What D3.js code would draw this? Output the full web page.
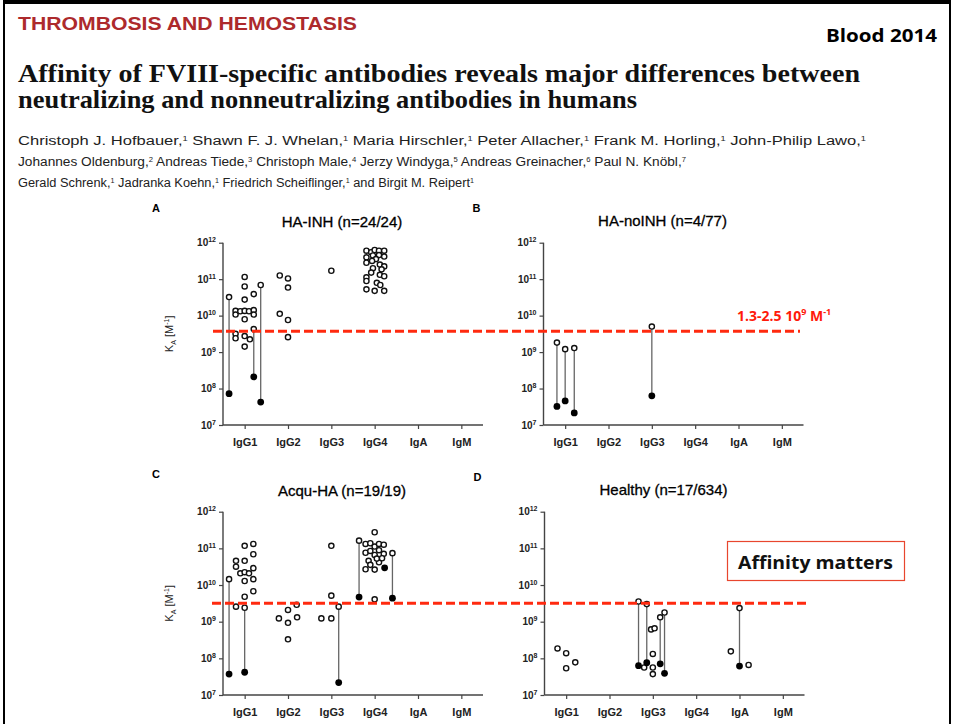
<!DOCTYPE html>
<html>
<head>
<meta charset="utf-8">
<script src="https://cdn.jsdelivr.net/npm/d3@7"></script>
<style>
  body { margin: 0; background: #fff; }
  svg { display: block; }
</style>
</head>
<body>
<div id="chart"></div>
<script>
// ---- data (log10 KA, jitter in category steps) ----
var categories = ["IgG1", "IgG2", "IgG3", "IgG4", "IgA", "IgM"];
var yTicks = [7, 8, 9, 10, 11, 12];

// panel A  HA-INH
var haInhOpen = [
  ["IgG1", 0, 11.06], ["IgG1", 0, 10.80], ["IgG1", 0, 10.44], ["IgG1", 0.21, 10.59],
  ["IgG1", -0.21, 10.13], ["IgG1", -0.21, 10.03], ["IgG1", -0.10, 10.12], ["IgG1", 0, 10.13],
  ["IgG1", 0.10, 10.12], ["IgG1", 0.21, 10.15], ["IgG1", 0.21, 10.03], ["IgG1", 0, 9.90],
  ["IgG1", -0.21, 9.50], ["IgG1", -0.21, 9.38], ["IgG1", 0, 9.44], ["IgG1", 0.12, 9.35], ["IgG1", 0, 9.15],
  ["IgG2", -0.19, 11.10], ["IgG2", 0, 11.02], ["IgG2", 0, 10.77], ["IgG2", -0.19, 10.05],
  ["IgG2", 0, 9.88], ["IgG2", 0, 9.41],
  ["IgG3", 0, 11.23],
  ["IgG4", -0.19, 11.78], ["IgG4", -0.08, 11.74], ["IgG4", 0, 11.80], ["IgG4", 0.1, 11.78], ["IgG4", 0.22, 11.78],
  ["IgG4", -0.19, 11.60], ["IgG4", -0.04, 11.65], ["IgG4", 0.1, 11.66], ["IgG4", 0.22, 11.62], ["IgG4", 0.03, 11.55],
  ["IgG4", -0.19, 11.45], ["IgG4", -0.06, 11.50], ["IgG4", 0.12, 11.40], ["IgG4", 0.22, 11.35],
  ["IgG4", -0.04, 11.30], ["IgG4", 0.16, 11.27],
  ["IgG4", -0.19, 11.05], ["IgG4", -0.08, 11.18], ["IgG4", 0.12, 11.12], ["IgG4", 0.22, 11.08],
  ["IgG4", -0.19, 10.95], ["IgG4", 0.05, 10.90], ["IgG4", 0.13, 10.84],
  ["IgG4", -0.19, 10.72], ["IgG4", 0, 10.68], ["IgG4", 0.22, 10.68]
];
var haInhFilled = [];
var haInhPairs = [["IgG1", -0.36, 10.51, 7.86], ["IgG1", 0.37, 10.84, 7.63], ["IgG1", 0.21, 9.63, 8.32]];

// panel B  HA-noINH
var haNoInhOpen = [];
var haNoInhFilled = [];
var haNoInhPairs = [["IgG1", -0.19, 9.26, 7.51], ["IgG1", 0, 9.08, 7.66], ["IgG1", 0.21, 9.11, 7.33],
  ["IgG3", 0, 9.70, 7.80]];

// panel C  Acqu-HA
var acquOpen = [
  ["IgG1", -0.20, 9.41], ["IgG1", 0, 9.68], ["IgG1", 0.20, 9.83], ["IgG1", 0, 10.11], ["IgG1", 0.20, 10.16],
  ["IgG1", -0.10, 10.32], ["IgG1", 0, 10.35], ["IgG1", 0.10, 10.32], ["IgG1", 0.20, 10.46],
  ["IgG1", -0.20, 10.50], ["IgG1", -0.20, 10.66], ["IgG1", 0, 10.66], ["IgG1", 0.20, 10.84],
  ["IgG1", 0, 11.07], ["IgG1", 0.20, 11.12],
  ["IgG2", -0.21, 9.09], ["IgG2", 0, 9.32], ["IgG2", 0.20, 9.46], ["IgG2", 0, 8.97],
  ["IgG2", 0.21, 9.12], ["IgG2", 0, 8.52],
  ["IgG3", -0.23, 9.09], ["IgG3", 0, 9.09], ["IgG3", 0, 11.07], ["IgG3", 0, 9.71],
  ["IgG4", 0, 11.44], ["IgG4", -0.21, 11.12], ["IgG4", -0.10, 11.14], ["IgG4", 0, 11.05],
  ["IgG4", 0.10, 11.12], ["IgG4", 0.21, 11.10], ["IgG4", -0.21, 10.88], ["IgG4", -0.10, 10.93],
  ["IgG4", 0, 10.82], ["IgG4", 0.21, 10.85], ["IgG4", 0.10, 10.95], ["IgG4", -0.14, 10.66],
  ["IgG4", 0.10, 10.62], ["IgG4", -0.10, 10.55], ["IgG4", -0.21, 10.43], ["IgG4", 0, 10.42],
  ["IgG4", 0.05, 10.72], ["IgG4", 0.17, 10.73], ["IgG4", 0, 9.61]
];
var acquFilled = [["IgG4", 0.23, 10.47]];
var acquPairs = [["IgG1", -0.36, 10.16, 7.57], ["IgG1", 0, 9.38, 7.62], ["IgG3", 0.17, 9.41, 7.34],
  ["IgG4", -0.36, 11.21, 9.67], ["IgG4", 0.41, 10.87, 9.64]];

// panel D  Healthy
var healthyOpen = [
  ["IgG1", -0.20, 8.27], ["IgG1", 0, 8.14], ["IgG1", 0.21, 7.89], ["IgG1", 0, 7.73],
  ["IgG3", -0.04, 8.79], ["IgG3", 0.04, 8.82], ["IgG3", 0, 8.12], ["IgG3", -0.20, 7.75],
  ["IgG3", 0, 7.75], ["IgG3", 0, 7.57],
  ["IgA", -0.20, 8.19], ["IgA", 0.21, 7.82]
];
var healthyFilled = [];
var healthyPairs = [["IgG3", -0.33, 9.55, 7.80], ["IgG3", -0.14, 9.48, 7.88], ["IgG3", 0.17, 9.12, 7.85],
  ["IgG3", 0.27, 9.25, 7.59], ["IgA", 0, 9.37, 7.79]];

var thresholdTop = 9.57, thresholdBottom = 9.50;

// ---- drawing ----
var W = 954, H = 724;
var svg = d3.select("#chart").append("svg").attr("width", W).attr("height", H);
var sans = "'Liberation Sans', Arial, sans-serif";

var defs = svg.append("defs");
defs.append("filter").attr("id", "blur").append("feGaussianBlur").attr("stdDeviation", 1.2);

// frame
svg.append("rect").attr("x", 4).attr("y", 2).attr("width", 946).attr("height", 730)
  .attr("fill", "none").attr("stroke", "#000").attr("stroke-width", 2);
svg.append("line").attr("x1", 3).attr("x2", 951).attr("y1", 2).attr("y2", 2)
  .attr("stroke", "#000").attr("stroke-width", 4);

// header
svg.append("text").attr("x", 18).attr("y", 30).attr("font-family", sans).attr("font-weight", "bold")
  .attr("font-size", 18).attr("fill", "#ad2a2c").attr("textLength", 339).attr("lengthAdjust", "spacingAndGlyphs")
  .text("THROMBOSIS AND HEMOSTASIS");
svg.append("text").attr("x", 826).attr("y", 42).attr("font-family", "'Open Sans', sans-serif").attr("font-weight", "bold")
  .attr("font-size", 18).attr("fill", "#000").attr("textLength", 111).attr("lengthAdjust", "spacingAndGlyphs")
  .text("Blood 2014");

var titleLines = [
  ["Affinity of FVIII-specific antibodies reveals major differences between", 82, 842],
  ["neutralizing and nonneutralizing antibodies in humans", 108, 619]
];
titleLines.forEach(function(t){
  svg.append("text").attr("x", 18).attr("y", t[1]).attr("font-family", "'Liberation Serif', 'Times New Roman', serif")
    .attr("font-weight", "bold").attr("font-size", 25).attr("fill", "#111")
    .attr("textLength", t[2]).attr("lengthAdjust", "spacingAndGlyphs").text(t[0]);
});

var authorLines = [
  [[["Christoph J. Hofbauer,", "1"], [" Shawn F. J. Whelan,", "1"], [" Maria Hirschler,", "1"], [" Peter Allacher,", "1"],
    [" Frank M. Horling,", "1"], [" John-Philip Lawo,", "1"]], 145, 848],
  [[["Johannes Oldenburg,", "2"], [" Andreas Tiede,", "3"], [" Christoph Male,", "4"], [" Jerzy Windyga,", "5"],
    [" Andreas Greinacher,", "6"], [" Paul N. Knöbl,", "7"]], 166, 668],
  [[["Gerald Schrenk,", "1"], [" Jadranka Koehn,", "1"], [" Friedrich Scheiflinger,", "1"], [" and Birgit M. Reipert", "1"]], 187, 456]
];
authorLines.forEach(function(l){
  var t = svg.append("text").attr("x", 18).attr("y", l[1]).attr("font-family", sans)
    .attr("font-size", 12.5).attr("fill", "#222")
    .attr("textLength", l[2]).attr("lengthAdjust", "spacingAndGlyphs");
  l[0].forEach(function(p, i){
    t.append("tspan").attr("dy", i ? 4 : 0).text(p[0]);
    t.append("tspan").attr("font-size", 7).attr("dy", -4).text(p[1]);
  });
});

// panels
var panels = [
  {letter: "A", title: "HA-INH (n=24/24)", x0: 223, top: 242.7, bottom: 425, ylabel: true,
    open: haInhOpen, filled: haInhFilled, pairs: haInhPairs, thr: thresholdTop, titleY: 227, letterY: 212},
  {letter: "B", title: "HA-noINH (n=4/77)", x0: 543.5, top: 242.7, bottom: 425, ylabel: false,
    open: haNoInhOpen, filled: haNoInhFilled, pairs: haNoInhPairs, thr: thresholdTop, titleY: 226, letterY: 212},
  {letter: "C", title: "Acqu-HA (n=19/19)", x0: 223, top: 511.7, bottom: 695, ylabel: true,
    open: acquOpen, filled: acquFilled, pairs: acquPairs, thr: thresholdBottom, titleY: 496, letterY: 478},
  {letter: "D", title: "Healthy (n=17/634)", x0: 544.5, top: 511.7, bottom: 695, ylabel: false,
    open: healthyOpen, filled: healthyFilled, pairs: healthyPairs, thr: thresholdBottom, titleY: 495, letterY: 481}
];

function kA(v){ return Math.pow(10, v); }

panels.forEach(function(p){
  var g = svg.append("g");
  var x = d3.scalePoint().domain(categories).range([p.x0, p.x0 + 260]).padding(0.5);
  var y = d3.scaleLog().domain([1e7, 1e12]).range([p.bottom, p.top]);
  p.x = x; p.y = y;
  var px = function(d){ return x(d[0]) + d[1] * x.step(); };

  g.append("text").attr("x", p.x0 - 71).attr("y", p.letterY).attr("font-family", sans)
    .attr("font-weight", "bold").attr("font-size", 11).text(p.letter);
  g.append("text").attr("x", p.x0 + 119).attr("y", p.titleY).attr("text-anchor", "middle")
    .attr("font-family", sans).attr("font-size", 15).attr("fill", "#000")
    .attr("stroke", "#000").attr("stroke-width", 0.3).text(p.title);

  // axes
  var yAxis = d3.axisLeft(y).tickValues(yTicks.map(kA)).tickSize(4).tickFormat("");
  var gy = g.append("g").attr("transform", "translate(" + p.x0 + ",0)").call(yAxis);
  var xAxis = d3.axisBottom(x).tickSize(4).tickSizeOuter(0).tickPadding(9);
  var gx = g.append("g").attr("transform", "translate(0," + p.bottom + ")").call(xAxis);
  [gy, gx].forEach(function(a){
    a.select(".domain").attr("stroke", "#444").attr("stroke-width", 1.4);
    a.selectAll(".tick line").attr("stroke", "#444").attr("stroke-width", 1.2);
  });
  gy.select(".domain").attr("d", "M0," + p.top + "V" + p.bottom);
  gx.select(".domain").attr("d", "M" + p.x0 + ",0H" + (p.x0 + 260));
  gx.selectAll(".tick text").attr("font-family", sans).attr("font-weight", "bold")
    .attr("font-size", 11).attr("fill", "#222");

  // y tick labels 10^n
  gy.selectAll(".tick").each(function(d){
    var t = d3.select(this).append("text").attr("x", -7).attr("dy", "0.32em").attr("text-anchor", "end")
      .attr("font-family", sans).attr("font-weight", "bold").attr("font-size", 10).attr("fill", "#222");
    t.append("tspan").text("10");
    t.append("tspan").attr("font-size", 7).attr("dy", -4).text(Math.round(Math.log10(d)));
  });

  if (p.ylabel) {
    var yl = g.append("text").attr("transform", "translate(" + (p.x0 - 50) + "," + ((p.top + p.bottom) / 2) + ") rotate(-90)")
      .attr("text-anchor", "middle").attr("font-family", sans).attr("font-size", 11).attr("fill", "#222");
    yl.append("tspan").text("K");
    yl.append("tspan").attr("font-size", 7).attr("dy", 3).text("A");
    yl.append("tspan").attr("dy", -3).text(" [M");
    yl.append("tspan").attr("font-size", 7).attr("dy", -4).text("-1");
    yl.append("tspan").attr("dy", 4).text("]");
  }

  // links
  g.selectAll(".link").data(p.pairs).enter().append("line")
    .attr("x1", px).attr("x2", px)
    .attr("y1", function(d){ return y(kA(d[2])); })
    .attr("y2", function(d){ return y(kA(d[3])); })
    .attr("stroke", "#666").attr("stroke-width", 1.3);

  var opens = p.open.concat(p.pairs.map(function(d){ return [d[0], d[1], d[2]]; }));
  var fills = p.filled.concat(p.pairs.map(function(d){ return [d[0], d[1], d[3]]; }));

  g.selectAll(".open").data(opens).enter().append("circle")
    .attr("cx", px).attr("cy", function(d){ return y(kA(d[2])); })
    .attr("r", 2.6).attr("fill", "#fff").attr("stroke", "#111").attr("stroke-width", 1.4);
  g.selectAll(".filled").data(fills).enter().append("circle")
    .attr("cx", px).attr("cy", function(d){ return y(kA(d[2])); })
    .attr("r", 3.4).attr("fill", "#000");
});

// threshold dashed lines across both panels of a row
[[panels[0], 213, 800], [panels[2], 212, 806]].forEach(function(r){
  var yy = r[0].y(kA(r[0].thr));
  svg.append("line").attr("x1", r[1]).attr("x2", r[2]).attr("y1", yy + 2).attr("y2", yy + 2)
    .attr("stroke", "#999").attr("stroke-width", 3).attr("stroke-dasharray", "9,4")
    .attr("opacity", 0.45).attr("filter", "url(#blur)");
  svg.append("line").attr("x1", r[1]).attr("x2", r[2]).attr("y1", yy).attr("y2", yy)
    .attr("stroke", "#ff2a0f").attr("stroke-width", 3).attr("stroke-dasharray", "9,4");
});

// threshold label
var lab = svg.append("text").attr("x", 737).attr("y", 321).attr("font-family", "'Open Sans', sans-serif")
  .attr("font-weight", "bold").attr("font-size", 14).attr("fill", "#ff1a0a");
lab.append("tspan").text("1.3-2.5 10");
lab.append("tspan").attr("font-size", 9).attr("dy", -6).text("9");
lab.append("tspan").attr("dy", 6).text(" M");
lab.append("tspan").attr("font-size", 9).attr("dy", -6).text("-1");

// callout box
svg.append("rect").attr("x", 727.5).attr("y", 541.5).attr("width", 177).attr("height", 39)
  .attr("fill", "#fff").attr("stroke", "#e8462e").attr("stroke-width", 1.2);
svg.append("text").attr("x", 738).attr("y", 569).attr("font-family", "'Open Sans', sans-serif")
  .attr("font-weight", "bold").attr("font-size", 18).attr("fill", "#111")
  .attr("textLength", 155).attr("lengthAdjust", "spacingAndGlyphs").text("Affinity matters");
</script>
</body>
</html>
